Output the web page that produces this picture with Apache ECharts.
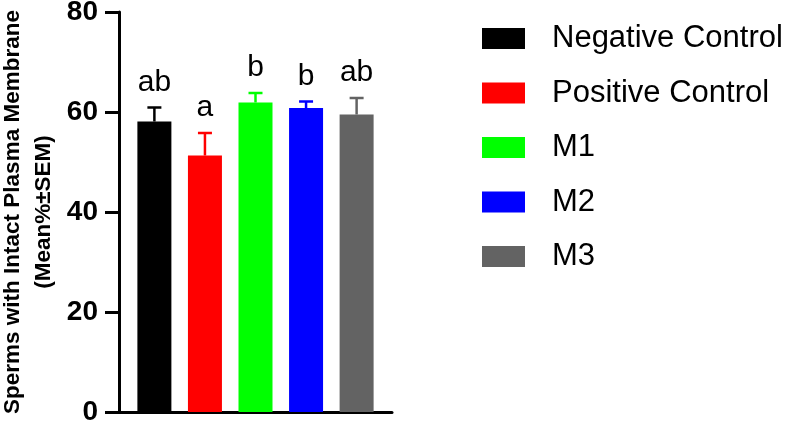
<!DOCTYPE html>
<html>
<head>
<meta charset="utf-8">
<script src="https://cdn.jsdelivr.net/npm/echarts@6/dist/echarts.min.js"></script>
<style>
  html, body { margin: 0; padding: 0; background: #fff; }
  #chart { width: 788px; height: 424px; }
</style>
</head>
<body>
<div id="chart"></div>
<script>
// groups, mean %, SEM, significance letters
var groups = ['Negative Control', 'Positive Control', 'M1', 'M2', 'M3'];
var means = [58.1, 51.3, 61.9, 60.8, 59.5];
var sems = [2.8, 4.5, 1.9, 1.3, 3.3];
var letters = ['ab', 'a', 'b', 'b', 'ab'];
var yTicks = [0, 20, 40, 60, 80];

var colors = ['#000000', '#ff0000', '#00ff00', '#0000ff', '#636363'];
var font = 'Liberation Sans, Arial, sans-serif';

var myChart = echarts.init(document.getElementById('chart'));

var series = groups.map(function (name, i) {
    return {
        name: name,
        type: 'bar',
        barWidth: 34,
        barGap: '-100%',
        itemStyle: { color: colors[i] },
        data: [[i, means[i]]]
    };
});

// error bars + letters
series.push({
    type: 'custom',
    z: 3,
    data: groups.map(function (g, i) { return [i, means[i], sems[i]]; }),
    renderItem: function (params, api) {
        var i = params.dataIndex;
        var base = api.coord([api.value(0), api.value(1)]);
        var top = api.coord([api.value(0), api.value(1) + api.value(2)]);
        var c = colors[i];
        return {
            type: 'group',
            children: [
                { type: 'line', shape: { x1: base[0], y1: base[1], x2: top[0], y2: top[1] },
                  style: { stroke: c, lineWidth: 2.5 } },
                { type: 'line', shape: { x1: top[0] - 7, y1: top[1], x2: top[0] + 7, y2: top[1] },
                  style: { stroke: c, lineWidth: 2.5 } },
                { type: 'text', x: top[0], y: top[1] - 10,
                  style: { text: letters[i], fill: '#000', font: '30px ' + font,
                           textAlign: 'center', textVerticalAlign: 'bottom' } }
            ]
        };
    }
});

var option = {
    animation: false,
    textStyle: { fontFamily: font },
    grid: { left: 119, right: 396, top: 12, bottom: 12, outerBoundsMode: 'none' },
    legend: {
        data: groups,
        orient: 'vertical',
        left: 482,
        top: 23,
        padding: 0,
        icon: 'rect',
        itemWidth: 43,
        itemHeight: 21,
        itemGap: 23.5,
        textStyle: { fontSize: 31, lineHeight: 30, color: '#000', padding: [0, 0, 0, 22], fontFamily: font }
    },
    xAxis: {
        type: 'value',
        min: -0.7,
        max: 4.7,
        axisLine: { show: true, onZero: false, lineStyle: { color: '#000', width: 3 } },
        axisTick: { show: false },
        axisLabel: { show: false },
        splitLine: { show: false }
    },
    yAxis: {
        type: 'value',
        min: yTicks[0],
        max: yTicks[yTicks.length - 1],
        interval: 20,
        name: 'Sperms with Intact Plasma Membrane\n(Mean%±SEM)',
        nameLocation: 'middle',
        nameRotate: 90,
        nameGap: 60,
        nameTextStyle: { fontSize: 22.5, fontWeight: 'bold', color: '#000', lineHeight: 31, fontFamily: font },
        axisLine: { show: true, onZero: false, lineStyle: { color: '#000', width: 3 } },
        axisTick: { show: true, length: 14, lineStyle: { color: '#000', width: 3 } },
        axisLabel: { margin: 21, fontSize: 28, fontWeight: 'bold', color: '#000', fontFamily: font },
        splitLine: { show: false }
    },
    series: series
};
myChart.setOption(option);
</script>
</body>
</html>
